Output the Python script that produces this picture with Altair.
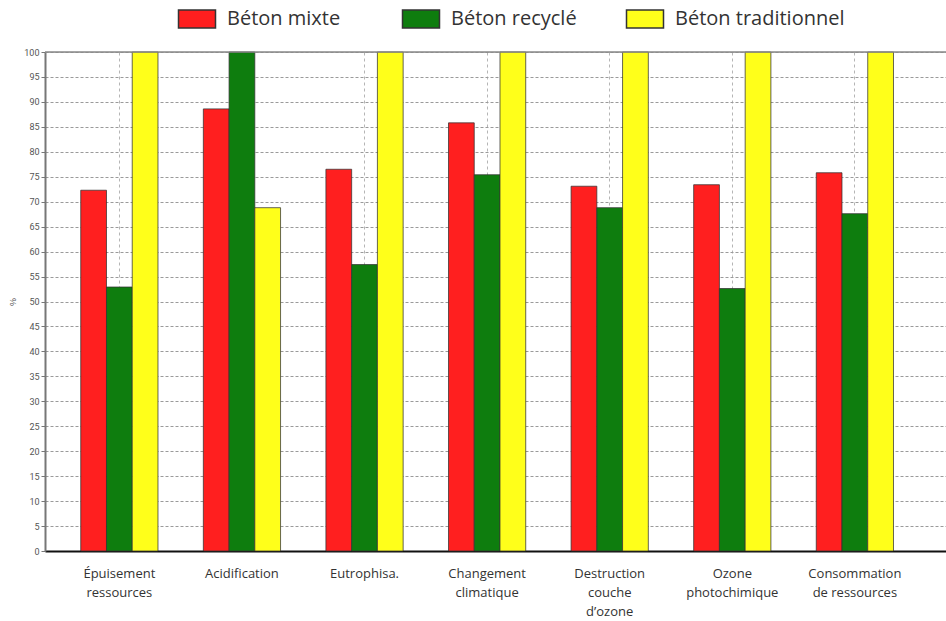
import altair as alt
import pandas as pd

categories = [
    "Épuisement\nressources",
    "Acidification",
    "Eutrophisa.",
    "Changement\nclimatique",
    "Destruction\ncouche\nd’ozone",
    "Ozone\nphotochimique",
    "Consommation\nde ressources",
]
series = ["Béton mixte", "Béton recyclé", "Béton traditionnel"]
mixte = [72.3, 88.6, 76.5, 85.8, 73.1, 73.4, 75.8]
recycle = [52.9, 100.0, 57.4, 75.4, 68.8, 52.6, 67.6]
traditionnel = [100.0, 68.8, 100.0, 100.0, 100.0, 100.0, 100.0]
colors = ["#ff1f1f", "#0e7d0e", "#ffff1a"]
y_ticks = list(range(0, 101, 5))

rows = []
for name, vals in zip(series, [mixte, recycle, traditionnel]):
    for c, v in zip(categories, vals):
        rows.append({"categorie": c, "serie": name, "valeur": v})
df = pd.DataFrame(rows)

y_scale = alt.Scale(domain=[0, 100], nice=False)
y_axis = alt.Axis(
    values=y_ticks,
    title="%",
    titleFontSize=9,
    titleFontWeight="normal",
    titleColor="#555555",
    titlePadding=6,
    labelFont="Liberation Sans Narrow, Roboto",
    labelFontSize=9,
    labelColor="#555555",
    labelPadding=2,
    labelOverlap=False,
    tickSize=4,
    tickColor="#777777",
    domainColor="#777777",
    domainWidth=2,
    grid=True,
    gridDash=[3, 2],
    gridColor="#9a9a9a",
    gridWidth=1,
)

bars = alt.Chart(df).mark_bar(stroke="#333333", strokeWidth=1, strokeOpacity=0.75).encode(
    x=alt.X(
        "categorie:N",
        sort=categories,
        scale=alt.Scale(paddingInner=0.37, paddingOuter=0.36, align=0.405),
        axis=alt.Axis(
            title=None,
            labelExpr="split(datum.label, '\\n')",
            labelAngle=0,
            labelFont="Open Sans",
            labelFontSize=13,
            labelLineHeight=19,
            labelPadding=16,
            labelBaseline="top",
            labelColor="#333333",
            ticks=False,
            domainColor="#111111",
            domainWidth=2,
            grid=True,
            gridDash=[3, 3],
            gridColor="#b5b5b5",
            gridWidth=1,
            bandPosition=0.5,
        ),
    ),
    xOffset=alt.XOffset("serie:N", sort=series, scale=alt.Scale(paddingInner=0, paddingOuter=0)),
    y=alt.Y("valeur:Q", scale=y_scale, axis=y_axis),
    color=alt.Color(
        "serie:N",
        scale=alt.Scale(domain=series, range=colors),
        legend=alt.Legend(
            title=None,
            orient="none",
            legendX=141,
            legendY=-44,
            direction="horizontal",
            symbolType="M-1.85,-0.9H1.85V0.9H-1.85Z",
            symbolSize=400,
            symbolStrokeColor="#333333",
            symbolStrokeWidth=1.5,
            symbolOpacity=1,
            labelFont="Open Sans",
            labelFontSize=20,
            labelColor="#333333",
            labelOffset=19,
            labelLimit=400,
            columnPadding=2,
            gridAlign="all",
        ),
    ),
)

top = alt.Chart(pd.DataFrame({"valeur": [100]})).mark_rule(color="#888888", strokeWidth=1.5).encode(
    y=alt.Y("valeur:Q", scale=y_scale, axis=y_axis)
)

chart = (
    alt.layer(bars, top)
    .properties(
        width=901,
        height=499,
        autosize=alt.AutoSizeParams(type="none"),
        padding={"left": 45, "top": 52, "right": 0, "bottom": 70},
    )
    .configure_view(stroke=None)
    .configure(background="white")
)

chart.save("out.html", embed_options={"renderer": "svg", "actions": False})
